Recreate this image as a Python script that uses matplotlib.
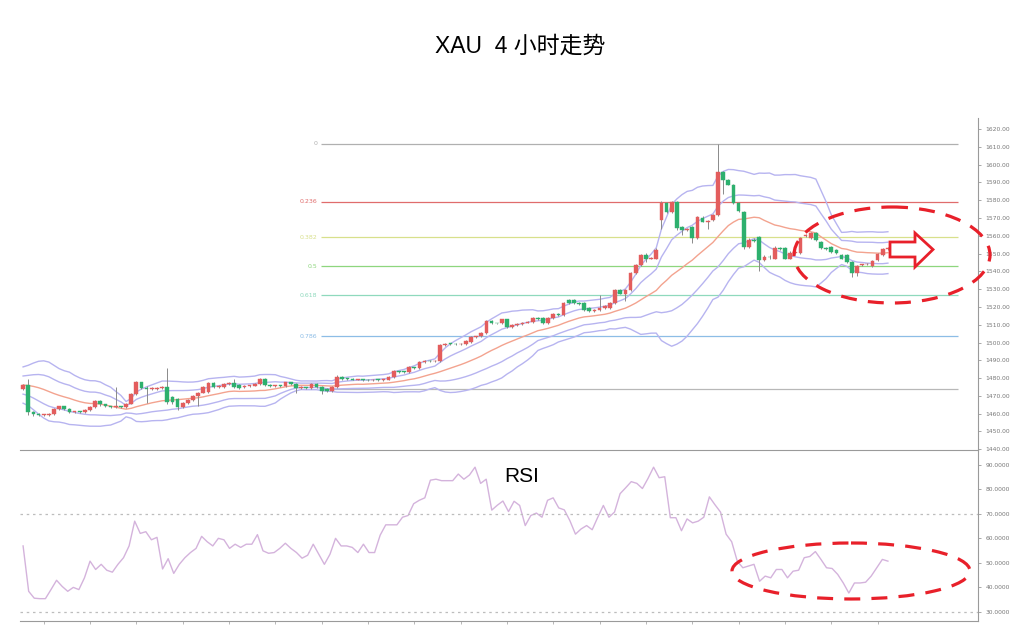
import numpy as np
import pandas as pd
import matplotlib
matplotlib.use("Agg")
import matplotlib.pyplot as plt
from matplotlib.patches import Ellipse, Polygon

plt.rcParams['font.family'] = ['Noto Sans CJK SC', 'DejaVu Sans']

# ---- XAU 4h candles ------------------------------------------------------
opens = [1474.0, 1476.1, 1461.0, 1459.9, 1459.4, 1459.5, 1459.9, 1462.5, 1464.1, 1462.5,
         1461.0, 1461.1, 1460.8, 1462.0, 1463.6, 1467.2, 1465.2, 1464.1, 1463.6, 1464.1,
         1463.6, 1465.7, 1470.9, 1477.6, 1474.5, 1474.0, 1474.1, 1474.5, 1475.1, 1469.3,
         1468.3, 1463.6, 1466.2, 1467.8, 1469.8, 1471.9, 1472.4, 1477.1, 1475.0, 1475.0,
         1476.6, 1477.1, 1476.1, 1474.8, 1475.5, 1475.8, 1476.6, 1479.7, 1476.1, 1475.5,
         1475.7, 1475.5, 1477.6, 1476.6, 1474.5, 1474.8, 1474.5, 1476.6, 1475.0, 1474.0,
         1472.9, 1475.0, 1480.7, 1479.7, 1479.5, 1479.2, 1479.3, 1479.0, 1478.7, 1479.0,
         1478.9, 1479.2, 1480.7, 1483.9, 1483.5, 1483.3, 1486.3, 1485.7, 1489.1, 1489.6,
         1489.4, 1489.7, 1498.4, 1499.4, 1499.2, 1498.9, 1499.2, 1500.5, 1503.2, 1503.4,
         1505.2, 1511.9, 1510.9, 1510.9, 1513.0, 1508.8, 1509.8, 1510.4, 1511.2, 1511.4,
         1514.0, 1514.0, 1510.9, 1514.0, 1516.1, 1515.6, 1523.9, 1523.9, 1522.3, 1522.3,
         1519.2, 1517.6, 1518.1, 1519.2, 1519.2, 1522.3, 1529.6, 1527.5, 1529.6, 1538.9,
         1543.6, 1549.3, 1547.2, 1547.2, 1569.1, 1578.4, 1573.2, 1579.0, 1564.9, 1563.4,
         1564.9, 1558.7, 1570.1, 1568.0, 1569.1, 1571.7, 1595.6, 1591.4, 1588.8, 1578.4,
         1573.2, 1553.5, 1557.6, 1559.3, 1546.2, 1548.3, 1547.2, 1553.0, 1553.0, 1547.2,
         1550.4, 1550.4, 1559.7, 1558.7, 1561.8, 1556.6, 1553.2, 1553.5, 1552.0, 1549.3,
         1549.3, 1545.2, 1538.9, 1543.6, 1543.9, 1543.1, 1546.2, 1549.3, 1552.4]
closes = [1476.1, 1461.0, 1459.9, 1459.4, 1459.5, 1459.9, 1462.5, 1464.1, 1462.5, 1461.0,
          1461.1, 1460.8, 1462.0, 1463.6, 1467.2, 1465.2, 1464.1, 1463.6, 1464.1, 1463.6,
          1465.7, 1470.9, 1477.6, 1474.5, 1474.0, 1474.1, 1474.5, 1475.1, 1466.7, 1466.7,
          1463.6, 1466.2, 1467.8, 1469.8, 1471.9, 1475.0, 1477.1, 1475.0, 1475.5, 1476.6,
          1476.9, 1475.0, 1474.5, 1475.5, 1475.8, 1476.6, 1479.7, 1476.1, 1475.5, 1475.7,
          1475.5, 1477.6, 1476.6, 1474.5, 1474.8, 1474.5, 1476.6, 1475.0, 1472.9, 1472.9,
          1475.0, 1480.7, 1479.7, 1479.5, 1479.2, 1479.3, 1479.0, 1478.7, 1479.0, 1478.9,
          1479.3, 1480.7, 1483.9, 1483.5, 1483.3, 1486.3, 1485.7, 1489.1, 1489.6, 1489.4,
          1489.7, 1498.4, 1499.4, 1499.2, 1498.9, 1499.2, 1500.9, 1503.2, 1503.4, 1505.4,
          1511.9, 1510.9, 1510.7, 1513.0, 1508.8, 1509.8, 1510.4, 1511.2, 1511.4, 1514.0,
          1513.0, 1510.9, 1514.0, 1516.1, 1515.6, 1522.3, 1522.3, 1522.3, 1521.8, 1518.1,
          1517.6, 1518.1, 1519.2, 1520.7, 1522.3, 1529.6, 1527.5, 1529.6, 1538.9, 1543.6,
          1549.3, 1547.2, 1547.6, 1552.0, 1578.4, 1573.2, 1579.0, 1564.4, 1563.4, 1563.9,
          1558.7, 1570.5, 1568.0, 1568.5, 1571.7, 1596.1, 1591.4, 1588.8, 1578.4, 1574.0,
          1553.5, 1557.6, 1557.1, 1546.2, 1548.3, 1547.8, 1553.2, 1552.5, 1547.2, 1550.4,
          1550.7, 1558.7, 1560.2, 1561.8, 1557.6, 1553.2, 1552.8, 1550.9, 1550.4, 1547.2,
          1545.2, 1539.1, 1543.1, 1543.9, 1544.1, 1545.8, 1549.8, 1552.4, 1552.9]
highs = [1476.6, 1479.7, 1461.5, 1460.4, 1459.9, 1460.4, 1463.0, 1464.6, 1464.6, 1463.0,
         1461.5, 1461.5, 1462.5, 1464.1, 1467.8, 1467.8, 1465.7, 1464.6, 1475.1, 1464.6,
         1466.2, 1471.4, 1478.6, 1478.1, 1475.6, 1475.1, 1475.1, 1475.6, 1485.9, 1469.8,
         1468.8, 1466.7, 1468.3, 1470.3, 1472.4, 1475.6, 1477.6, 1477.6, 1476.1, 1477.1,
         1477.6, 1479.7, 1476.6, 1476.1, 1476.4, 1477.1, 1480.2, 1480.2, 1476.6, 1476.3,
         1476.1, 1478.1, 1478.1, 1477.1, 1475.5, 1475.0, 1477.1, 1477.1, 1475.5, 1474.5,
         1475.5, 1481.8, 1481.2, 1480.2, 1480.0, 1479.7, 1479.7, 1479.5, 1479.5, 1479.5,
         1479.7, 1481.2, 1484.4, 1484.1, 1483.9, 1486.8, 1486.5, 1489.6, 1490.1, 1490.1,
         1490.1, 1498.9, 1500.0, 1499.7, 1499.7, 1499.7, 1501.5, 1503.6, 1503.9, 1505.7,
         1512.4, 1512.4, 1511.2, 1513.5, 1513.5, 1510.4, 1510.9, 1511.7, 1511.9, 1514.5,
         1514.5, 1514.5, 1514.5, 1516.6, 1516.6, 1522.9, 1524.4, 1524.4, 1522.9, 1522.9,
         1519.7, 1518.7, 1526.9, 1521.3, 1522.9, 1530.1, 1530.1, 1530.1, 1539.5, 1544.1,
         1549.8, 1550.4, 1548.3, 1552.9, 1579.5, 1579.0, 1579.5, 1579.5, 1565.4, 1564.4,
         1565.4, 1571.2, 1571.2, 1569.1, 1572.2, 1611.7, 1596.6, 1592.0, 1589.3, 1579.0,
         1573.7, 1558.7, 1558.7, 1559.7, 1549.3, 1549.3, 1554.0, 1553.5, 1553.5, 1551.4,
         1551.4, 1559.2, 1560.8, 1562.3, 1562.3, 1557.1, 1553.5, 1554.0, 1552.5, 1549.8,
         1549.8, 1545.7, 1543.6, 1544.4, 1544.6, 1546.2, 1550.4, 1553.0, 1553.5]
lows = [1473.5, 1459.4, 1458.9, 1458.9, 1458.9, 1458.9, 1459.4, 1462.0, 1462.0, 1460.4,
        1460.4, 1460.4, 1460.4, 1461.5, 1463.0, 1464.6, 1463.6, 1463.0, 1463.0, 1463.0,
        1463.0, 1465.2, 1470.3, 1474.0, 1466.2, 1473.5, 1473.5, 1474.0, 1465.2, 1465.2,
        1462.0, 1463.0, 1465.7, 1467.2, 1464.1, 1471.4, 1471.9, 1474.5, 1474.5, 1474.5,
        1476.1, 1474.5, 1474.0, 1474.5, 1475.0, 1475.5, 1476.1, 1475.5, 1475.0, 1475.0,
        1475.0, 1475.0, 1476.1, 1471.4, 1474.0, 1474.0, 1474.0, 1474.5, 1470.9, 1472.4,
        1472.4, 1474.5, 1479.2, 1479.0, 1478.7, 1478.7, 1478.5, 1478.2, 1478.2, 1478.2,
        1478.5, 1478.7, 1480.2, 1483.0, 1482.8, 1482.8, 1485.2, 1485.2, 1488.5, 1488.9,
        1489.1, 1489.1, 1497.9, 1498.7, 1498.4, 1498.4, 1498.7, 1500.0, 1502.7, 1502.9,
        1504.6, 1510.4, 1510.2, 1510.4, 1508.3, 1508.3, 1509.3, 1509.8, 1510.9, 1510.9,
        1512.5, 1510.4, 1510.4, 1513.5, 1515.0, 1515.0, 1521.8, 1521.8, 1521.3, 1517.6,
        1517.1, 1517.1, 1517.6, 1518.7, 1518.7, 1521.8, 1527.0, 1523.3, 1529.1, 1538.4,
        1543.1, 1545.2, 1546.7, 1546.7, 1563.9, 1572.7, 1572.7, 1563.4, 1560.7, 1562.8,
        1556.1, 1558.2, 1567.5, 1563.9, 1568.5, 1571.2, 1583.6, 1588.3, 1577.9, 1573.2,
        1552.4, 1553.0, 1556.6, 1540.0, 1545.7, 1547.2, 1546.7, 1552.0, 1546.7, 1546.7,
        1549.8, 1549.8, 1559.2, 1558.2, 1557.1, 1552.4, 1552.2, 1550.4, 1549.8, 1546.7,
        1544.6, 1536.9, 1537.4, 1543.1, 1543.4, 1542.5, 1545.7, 1548.8, 1551.9]

# closes before the first visible bar (estimated), only used to warm up the bands
warmup_closes = [1466, 1470, 1474, 1479, 1483, 1486, 1484, 1480, 1477, 1481,
                 1478, 1475, 1471, 1468, 1472, 1476, 1474, 1477, 1475]

BB_WINDOW = 20

# ---- Fibonacci retracement ----------------------------------------------
fib_high = 1611.6
fib_low = 1474.0
fib_ratios = [0, 0.236, 0.382, 0.5, 0.618, 0.786, 1]
fib_labels = ["0", "0.236", "0.382", "0.5", "0.618", "0.786", ""]
fib_colors = ["#b0b0b0", "#e06c6c", "#d8e08c", "#8ed67e", "#8fd9bd", "#8dbde6", "#b8b8b8"]

# ---- RSI -----------------------------------------------------------------
rsi = [56.9, 38.4, 35.6, 35.4, 35.4, 39.1, 42.9, 40.4, 38.4, 40.0, 39.1, 43.9, 50.7, 47.3,
       49.4, 47.0, 46.2, 49.4, 52.1, 56.9, 67.0, 62.0, 62.7, 59.4, 60.4, 47.5, 51.7, 45.7,
       49.4, 52.1, 54.2, 55.9, 60.8, 58.6, 56.9, 60.0, 59.4, 55.9, 57.6, 56.3, 57.6, 57.6,
       61.5, 54.9, 53.9, 54.2, 55.9, 58.0, 55.9, 54.2, 51.9, 53.1, 57.6, 53.5, 49.4, 53.5,
       60.0, 56.9, 56.9, 56.3, 54.2, 57.6, 54.2, 54.2, 61.3, 65.5, 65.5, 65.5, 68.6, 69.3,
       74.1, 75.5, 76.5, 83.7, 84.1, 83.5, 83.5, 83.5, 86.2, 84.1, 85.8, 89.0, 82.4, 84.1,
       71.5, 73.5, 75.2, 70.9, 75.1, 73.4, 65.2, 69.3, 70.3, 68.6, 75.5, 76.5, 72.4, 71.6,
       67.2, 61.7, 63.8, 65.2, 63.5, 68.6, 73.4, 68.6, 70.7, 78.2, 80.6, 83.1, 82.4, 80.3,
       84.4, 89.0, 84.7, 85.1, 68.4, 68.4, 63.1, 67.9, 66.3, 67.0, 68.6, 76.9, 73.7, 70.7,
       61.7, 58.6, 50.7, 48.0, 48.7, 49.4, 42.5, 44.6, 43.9, 47.3, 47.3, 43.9, 46.6, 47.0,
       52.1, 52.6, 54.6, 51.4, 48.0, 47.7, 45.3, 41.8, 37.7, 41.8, 41.8, 42.1, 44.6, 48.0,
       51.4, 50.7]
rsi_levels = [70, 30]

TITLE = "XAU  4 小时走势"

UP, DOWN, WICK = "#e35d5d", "#2db06e", "#8a8a8a"
BAND, MA = "#b7b4f0", "#f3a38f"
AXC = "#9a9a9a"


def style_panel(a):
    a.yaxis.tick_right()
    a.tick_params(axis="y", length=2.5, width=0.6, color=AXC, pad=3)
    for s in ("left", "top"):
        a.spines[s].set_visible(False)
    for s in ("right", "bottom"):
        a.spines[s].set_color(AXC)
        a.spines[s].set_linewidth(0.8)


def main():
    n = len(closes)
    x = np.arange(n)
    o, c = np.array(opens), np.array(closes)
    h, l = np.array(highs), np.array(lows)

    full = pd.Series(warmup_closes + closes)
    mid = full.rolling(BB_WINDOW).mean().values[len(warmup_closes):]
    sd = full.rolling(BB_WINDOW).std(ddof=0).values[len(warmup_closes):]

    W, H = 1024, 632
    fig = plt.figure(figsize=(W / 100, H / 100), dpi=100)
    L, R = 20, 978
    ax2 = fig.add_axes([L / W, 1 - 621 / H, (R - L) / W, (621 - 450) / H])
    ax = fig.add_axes([L / W, 1 - 450 / H, (R - L) / W, (450 - 118) / H])
    ax.patch.set_visible(False)
    ax2.patch.set_visible(False)

    xmin, xmax = -0.6, 185.5

    # ---- price panel -----------------------------------------------------
    for k in (1, 2):
        ax.plot(x, mid + k * sd, color=BAND, lw=1.0, zorder=2)
        ax.plot(x, mid - k * sd, color=BAND, lw=1.0, zorder=2)
    ax.plot(x, mid, color=MA, lw=1.0, zorder=2)

    span = fib_high - fib_low
    for r, lab, col in zip(fib_ratios, fib_labels, fib_colors):
        lvl = fib_high - r * span
        ax.hlines(lvl, 57.8, 181.7, color=col, lw=0.9, zorder=1)
        if lab:
            ax.text(57.2, lvl, lab, color=col, fontsize=4.5, ha="right", va="center",
                    family="DejaVu Sans")

    up = c >= o
    cols = np.where(up, UP, DOWN)
    ax.vlines(x, l, h, color=WICK, lw=0.7, zorder=3)
    bottom = np.minimum(o, c)
    height = np.maximum(np.abs(c - o), 0.45)
    ax.bar(x, height, bottom=bottom, width=0.72, color=cols, edgecolor=cols,
           linewidth=0.3, zorder=4)

    ax.set_xlim(xmin, xmax)
    ax.set_ylim(1439.6, 1626.2)
    ax.set_xticks([])
    yt = np.arange(1440, 1621, 10)
    ax.set_yticks(yt)
    ax.set_yticklabels([f"{v:.2f}" for v in yt], fontsize=4.3, color="#777777",
                       family="DejaVu Sans")
    style_panel(ax)

    # ---- RSI panel -------------------------------------------------------
    rx = np.linspace(0, n - 1, len(rsi))
    ax2.plot(rx, rsi, color="#d4b3dc", lw=1.0)
    for v in rsi_levels:
        ax2.axhline(v, color="#bdbdbd", lw=0.9, ls=(0, (2, 3)))
    ax2.set_xlim(xmin, xmax)
    ax2.set_ylim(26.3, 96.0)
    ax2.set_xticks(np.arange(4, n, 9))
    ax2.set_xticklabels([])
    ax2.tick_params(axis="x", length=2, width=0.5, color=AXC)
    rt = np.arange(30, 91, 10)
    ax2.set_yticks(rt)
    ax2.set_yticklabels([f"{v:.4f}" for v in rt], fontsize=4.3, color="#777777",
                        family="DejaVu Sans")
    style_panel(ax2)

    fig.text(522 / W, 1 - 476 / H, "RSI", fontsize=15, ha="center", va="center",
             family=["Liberation Sans", "DejaVu Sans"])
    fig.text(520 / W, 1 - 46 / H, TITLE, fontsize=16.5, ha="center", va="center",
             family=["Liberation Sans", "Noto Sans CJK SC"])

    # ---- hand-drawn style callouts (pixel overlay) -----------------------
    ov = fig.add_axes([0, 0, 1, 1], facecolor="none")
    ov.set_xlim(0, W)
    ov.set_ylim(H, 0)
    ov.axis("off")
    dash = (0, (5, 3.5))
    ov.add_patch(Ellipse((892, 255), 196, 96, fill=False, ec="#e8202a", lw=2.3, ls=dash))
    ov.add_patch(Ellipse((851, 571), 238, 56, fill=False, ec="#e8202a", lw=2.3, ls=dash))
    arrow = [(890, 242), (915, 242), (915, 233), (933, 249.5), (915, 267), (915, 257),
             (890, 257)]
    ov.add_patch(Polygon(arrow, closed=True, fc="white", ec="#e8202a", lw=2.0))

    fig.savefig("out.png", dpi=100)
    plt.close(fig)


if __name__ == "__main__":
    main()
